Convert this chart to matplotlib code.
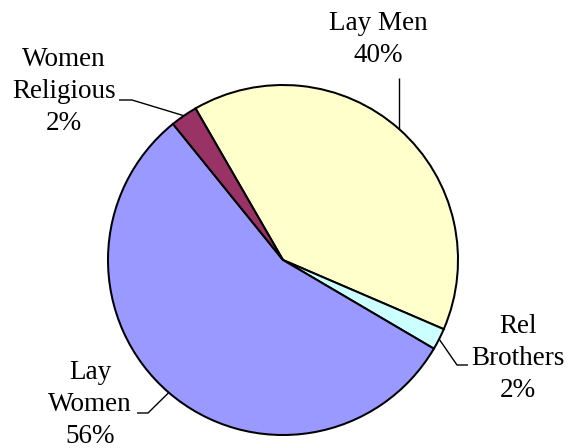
import numpy as np
import matplotlib
matplotlib.use("Agg")
import matplotlib.pyplot as plt

# slice order runs clockwise from the upper left
labels = ["Lay Men", "Rel\nBrothers", "Lay\nWomen", "Women\nReligious"]
values = [40, 2, 56, 2.5]
colors = ["#FFFFCC", "#CCFFFF", "#9999FF", "#993366"]

W, H = 569, 448
fig = plt.figure(figsize=(W / 100, H / 100), dpi=100)
ax = fig.add_axes([0, 0, 1, 1])

cx, cy, r = 283, H - 260, 175
wedges, _ = ax.pie(values, colors=colors, startangle=120, counterclock=False,
                   center=(cx, cy), radius=r,
                   wedgeprops=dict(edgecolor="black", linewidth=1.45))
ax.set_xlim(0, W)
ax.set_ylim(0, H)
ax.set_aspect("equal")
ax.axis("off")

font = dict(family="Liberation Serif", size=19.5, color="black")

# text anchor (center x, last baseline from top) and leader elbow, in pixels from top-left
layout = [
    dict(text=(378, 62), elbow=None, end=(399, 78)),
    dict(text=(518, 397), elbow=(457, 365), end=(468, 365)),
    dict(text=(90, 443), elbow=(148, 413), end=(137, 413)),
    dict(text=(64, 130), elbow=(132, 100), end=(119, 100)),
]

total = sum(values)
for w, lab, v, lay in zip(wedges, labels, values, layout):
    mid = np.deg2rad((w.theta1 + w.theta2) / 2)
    x0, y0 = cx + r * np.cos(mid), cy + r * np.sin(mid)
    pts = [(x0, y0)]
    if lay["elbow"] is not None:
        ex, ey = lay["elbow"]
        pts.append((ex, H - ey))
        pts.append((lay["end"][0], H - lay["end"][1]))
    else:
        pts.append((x0, H - lay["end"][1]))
    xs, ys = zip(*pts)
    ax.plot(xs, ys, color="black", lw=1.0, solid_capstyle="butt")
    tx, ty = lay["text"]
    pct = "%.0f%%" % (100 * v / total)
    ax.text(tx, H - ty, lab + "\n" + pct, ha="center", va="baseline",
            multialignment="center", linespacing=1.38, **font)

fig.savefig("out.png", dpi=100)
